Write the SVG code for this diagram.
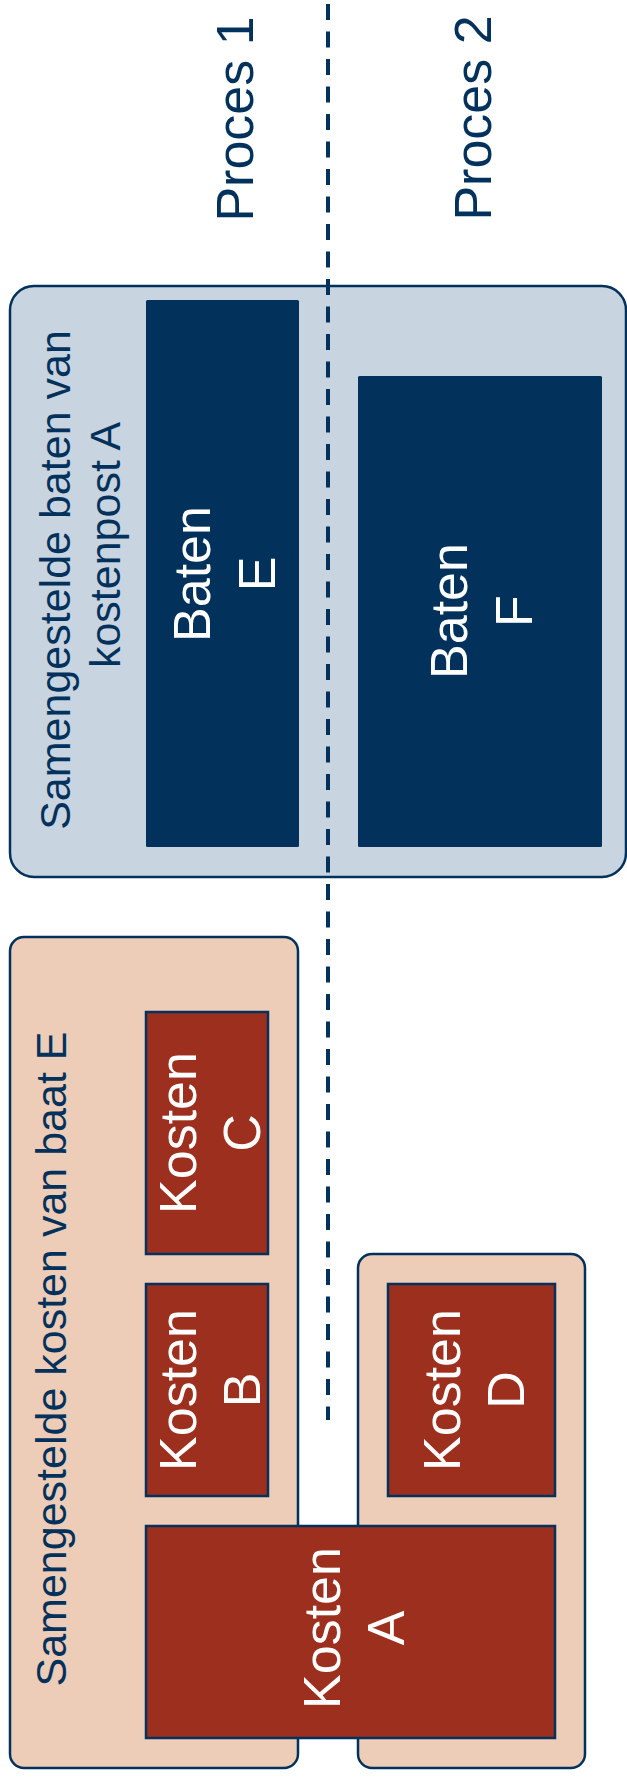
<svg xmlns="http://www.w3.org/2000/svg" width="627" height="1780" viewBox="0 0 627 1780">
<style>
.lbl{font-family:"Liberation Sans",Arial,sans-serif;fill:#02325C}
.wt{font-family:"Liberation Sans",Arial,sans-serif;fill:#FFFFFF;font-size:52px;text-anchor:middle}
.blue-c{fill:#C8D4E0;stroke:#02325C;stroke-width:2.5}
.peach-c{fill:#EDCCB8;stroke:#02325C;stroke-width:2.5}
.baten{fill:#02325C}
.kosten{fill:#9C2F1D;stroke:#02325C;stroke-width:2.5}
</style>
<rect width="627" height="1780" fill="#FFFFFF"/>
<g id="proces1-label"><text class="lbl" font-size="52" text-anchor="middle" transform="translate(253,119) rotate(-90)">Proces 1</text></g>
<g id="proces2-label"><text class="lbl" font-size="52" text-anchor="middle" transform="translate(491,118) rotate(-90)">Proces 2</text></g>

<g id="baten-group">
<rect class="blue-c" x="10" y="286" width="616" height="591" rx="24"/>
<text class="lbl" font-size="43" text-anchor="middle" transform="rotate(-90)"><tspan x="-580" y="70">Samengestelde baten van</tspan><tspan x="-545" y="120">kostenpost A</tspan></text>
</g>
<g id="baten-e">
<rect class="baten" x="146" y="300" width="153" height="547" rx="1.5"/>
<text class="wt" transform="translate(210,574) rotate(-90)"><tspan x="0" y="0">Baten</tspan><tspan x="0" y="65">E</tspan></text>
</g>
<g id="baten-f">
<rect class="baten" x="358" y="376" width="244" height="471" rx="1.5"/>
<text class="wt" transform="translate(467,611) rotate(-90)"><tspan x="0" y="0">Baten</tspan><tspan x="0" y="65">F</tspan></text>
</g>

<g id="kosten-group-1">
<rect class="peach-c" x="10" y="937" width="288" height="831" rx="14"/>
<text class="lbl" font-size="43" text-anchor="middle" transform="translate(66,1359) rotate(-90)">Samengestelde kosten van baat E</text>
</g>
<g id="kosten-group-2">
<rect class="peach-c" x="358" y="1254" width="227" height="514" rx="14"/>
</g>

<g id="connectors">
<line x1="328" y1="4" x2="328" y2="1420" stroke="#02325C" stroke-width="4" stroke-dasharray="16 11.5"/>
</g>

<g id="kosten-c">
<rect class="kosten" x="146" y="1012" width="122" height="242"/>
<text class="wt" transform="translate(196,1133) rotate(-90)"><tspan x="0" y="0">Kosten</tspan><tspan x="0" y="64">C</tspan></text>
</g>
<g id="kosten-b">
<rect class="kosten" x="146" y="1284" width="122" height="212"/>
<text class="wt" transform="translate(196,1390) rotate(-90)"><tspan x="0" y="0">Kosten</tspan><tspan x="0" y="64">B</tspan></text>
</g>
<g id="kosten-d">
<rect class="kosten" x="388" y="1284" width="167" height="212"/>
<text class="wt" transform="translate(460,1390) rotate(-90)"><tspan x="0" y="0">Kosten</tspan><tspan x="0" y="64">D</tspan></text>
</g>
<g id="kosten-a">
<rect class="kosten" x="146" y="1526" width="409" height="212"/>
<text class="wt" transform="translate(340,1628) rotate(-90)"><tspan x="0" y="0">Kosten</tspan><tspan x="0" y="64">A</tspan></text>
</g>
</svg>
